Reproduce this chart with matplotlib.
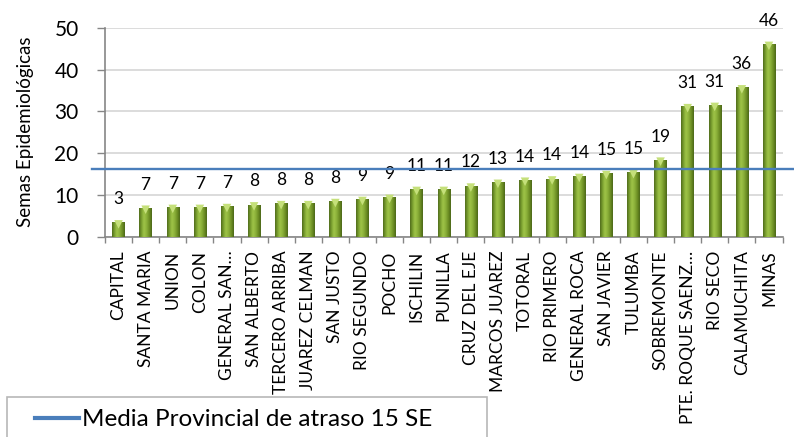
import numpy as np
import matplotlib
matplotlib.use("Agg")
import matplotlib.pyplot as plt
from matplotlib.colors import LinearSegmentedColormap
from matplotlib.lines import Line2D
from matplotlib.legend_handler import HandlerLine2D
import matplotlib.transforms as mtransforms

plt.rcParams['font.family'] = ['Lato', 'DejaVu Sans']

categories = ["CAPITAL", "SANTA MARIA", "UNION", "COLON", "GENERAL SAN…",
              "SAN ALBERTO", "TERCERO ARRIBA", "JUAREZ CELMAN", "SAN JUSTO",
              "RIO SEGUNDO", "POCHO", "ISCHILIN", "PUNILLA", "CRUZ DEL EJE",
              "MARCOS JUAREZ", "TOTORAL", "RIO PRIMERO", "GENERAL ROCA",
              "SAN JAVIER", "TULUMBA", "SOBREMONTE", "PTE. ROQUE SAENZ…",
              "RIO SECO", "CALAMUCHITA", "MINAS"]
values = [3.4, 6.9, 7.1, 7.1, 7.3, 7.7, 8.0, 8.0, 8.5, 9.0, 9.5, 11.4, 11.4,
          12.2, 13.1, 13.6, 13.9, 14.5, 15.2, 15.4, 18.4, 31.2, 31.5, 35.7, 46.1]
value_labels = ["3", "7", "7", "7", "7", "8", "8", "8", "8", "9", "9", "11", "11",
                "12", "13", "14", "14", "14", "15", "15", "19", "31", "31", "36", "46"]
mean_value = 16.3
mean_label = "Media Provincial de atraso 15 SE"
yticks = [0, 10, 20, 30, 40, 50]
ylabel = "Semas Epidemiológicas"

W, H = 794, 437
fig = plt.figure(figsize=(W / 100, H / 100), dpi=100)
ax = fig.add_axes([105 / W, 1 - 236.7 / H, (782.5 - 105) / W, (236.7 - 27.7) / H])

x = np.arange(len(categories))
bars = ax.bar(x, values, width=0.46, color="#7fa33a", zorder=3, linewidth=0)

# cylinder-like gradient inside each bar
cmap = LinearSegmentedColormap.from_list(
    "g", [(0.0, "#4e6a1c"), (0.15, "#71952a"), (0.38, "#9fc548"),
          (0.6, "#8bb03a"), (0.85, "#66871f"), (1.0, "#4a651a")])
grad = np.linspace(0, 1, 64)[None, :]
for b in bars:
    bx, by = b.get_x(), b.get_y()
    bw, bh = b.get_width(), b.get_height()
    im = ax.imshow(grad, cmap=cmap, extent=[bx, bx + bw, by, by + bh],
                   aspect="auto", zorder=3.5, interpolation="bicubic")
    im.set_clip_path(b)
# top bevel highlight
ax.scatter(x, np.array(values) - 0.45, marker="v", s=38, color="#c5e07a",
           edgecolors="none", zorder=4)

# value labels
for xi, v, lab in zip(x, values, value_labels):
    ax.annotate(lab, (xi, v), xytext=(0, 11), textcoords="offset points",
                ha="center", va="bottom", fontsize=12.5, color="black", zorder=5)

ax.set_xlim(-0.5, len(categories) - 0.5)
ax.set_ylim(0, 50)
ax.set_yticks(yticks)
ax.set_yticklabels([str(t) for t in yticks], fontsize=15)
ax.yaxis.grid(True, color="#d9d9d9", linewidth=1.3, zorder=0)
ax.set_axisbelow(True)

ax.set_xticks(x)
ax.set_xticklabels(categories, rotation=90, fontsize=12.5, va="top", ha="center")
ax.set_xticks(np.arange(len(categories) + 1) - 0.5, minor=True)
ax.tick_params(axis="x", which="major", length=0, pad=10)
ax.tick_params(axis="x", which="minor", length=4.5, color="#868686", width=1)
ax.tick_params(axis="y", length=6, color="#868686", width=1, pad=13)

for s in ["top", "right"]:
    ax.spines[s].set_visible(False)
ax.spines["left"].set_color("#868686")
ax.spines["bottom"].set_color("#868686")
ax.spines["left"].set_linewidth(1.2)
ax.spines["bottom"].set_linewidth(1.2)

ax.set_ylabel(ylabel, fontsize=13.5)
ax.yaxis.set_label_coords(-71 / (782.5 - 105), 0.5)

# mean line, extending beyond the axes
trans = mtransforms.blended_transform_factory(fig.transFigure, ax.transData)
mline = Line2D([92 / W, 1.0], [mean_value, mean_value], transform=trans,
               color="#4a7ebb", linewidth=1.7, clip_on=False, zorder=6)
ax.add_line(mline)

handle = Line2D([], [], color="#4a7ebb", linewidth=3)
leg = fig.legend([handle], [mean_label], loc="upper left",
                 bbox_to_anchor=(7 / W, 1 - 401.7 / H, (487 - 7) / W, 0.01),
                 mode="expand", fontsize=17.5, frameon=True, fancybox=False,
                 edgecolor="#a6a6a6", handlelength=2.45, handletextpad=0.12,
                 borderpad=0.5, borderaxespad=0,
                 handler_map={handle: HandlerLine2D(xpad=0.67)})
leg.get_frame().set_linewidth(1.2)

fig.savefig("out.png", dpi=100)
